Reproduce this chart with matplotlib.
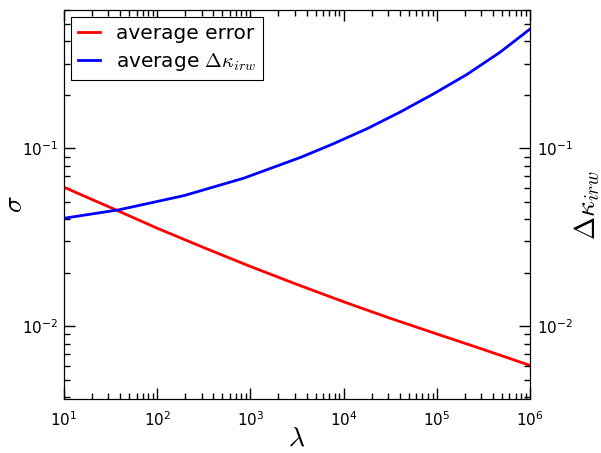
import matplotlib
matplotlib.use('Agg')
import matplotlib.pyplot as plt

plt.rcParams['axes.unicode_minus'] = False

# values
lam_err = [10, 31.6, 100, 316, 1e3, 3160, 1e4, 31600, 1e5, 316000, 1e6]
avg_error = [0.0605, 0.0465, 0.0356, 0.0277, 0.0217, 0.0172, 0.01374, 0.0111, 0.00906, 0.00741, 0.00603]

lam_dk = [10, 39, 194, 853, 3500, 7690, 17800, 40300, 91200, 209000, 476000, 1e6]
avg_dkappa = [0.0405, 0.0452, 0.0543, 0.0681, 0.0893, 0.106, 0.129, 0.160, 0.202, 0.260, 0.347, 0.469]


def main():
    fig = plt.figure(figsize=(6.01, 4.53), dpi=100)
    ax = fig.add_axes([0.1065, 0.119, 0.7755, 0.859])

    ax.plot(lam_err, avg_error, color='red', linewidth=2, label='average error')
    ax.plot(lam_dk, avg_dkappa, color='blue', linewidth=2, label=r'average $\Delta\kappa_{irw}$')
    ax.set_xscale('log')
    ax.set_yscale('log')
    ax.set_xlim(10, 1e6)
    ax.set_ylim(0.0039, 0.6)

    ax.tick_params(which='both', direction='in', top=True, right=False, labelsize=11)
    ax.tick_params(which='major', length=8, width=1)
    ax.tick_params(which='minor', length=4, width=1)
    ax.tick_params(axis='x', which='major', pad=8)
    ax.tick_params(axis='y', which='major', pad=4)
    ax.set_xlabel(r'$\lambda$', fontsize=20, math_fontfamily='cm')
    ax.set_ylabel(r'$\sigma$', fontsize=20, math_fontfamily='cm')
    ax.xaxis.set_label_coords(0.5, -0.064)
    ax.yaxis.set_label_coords(-0.077, 0.5)

    ax2 = ax.twinx()
    ax2.set_yscale('log')
    ax2.set_ylim(ax.get_ylim())
    ax2.tick_params(which='both', direction='in', labelsize=11)
    ax2.tick_params(which='major', length=8, width=1, pad=5)
    ax2.tick_params(which='minor', length=4, width=1)
    ax2.set_ylabel(r'$\Delta\kappa_{irw}$', fontsize=20, math_fontfamily='cm')
    ax2.yaxis.set_label_coords(1.09, 0.5)

    leg = ax.legend(loc='upper left', fontsize=14.5, fancybox=False, framealpha=1,
                    edgecolor='black', borderaxespad=0.35, handlelength=1.1,
                    handletextpad=0.8, labelspacing=0.4, borderpad=0.35)
    for t in leg.get_texts():
        t.set_math_fontfamily('cm')
    leg.get_frame().set_linewidth(0.8)

    plt.savefig('out.png')


if __name__ == '__main__':
    main()
